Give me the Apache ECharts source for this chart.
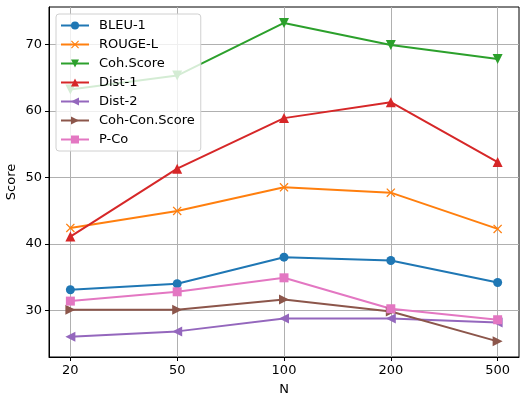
<!DOCTYPE html>
<html>
<head>
<meta charset="utf-8">
<script src="https://cdn.jsdelivr.net/npm/echarts@6/dist/echarts.min.js"></script>
<style>html,body{margin:0;padding:0;background:#fff}#c{width:523px;height:394px}</style>
</head>
<body>
<div id="c"></div>
<script>
var categories = ['20', '50', '100', '200', '500'];
var yTicks = [30, 40, 50, 60, 70];
var bleu1 = [33.1, 34.0, 38.0, 37.5, 34.2];
var rougeL = [42.4, 44.95, 48.5, 47.7, 42.25];
var cohScore = [63.2, 65.3, 73.2, 69.9, 67.8];
var dist1 = [41.1, 51.3, 58.9, 61.3, 52.3];
var dist2 = [26.05, 26.85, 28.8, 28.8, 28.2];
var cohConScore = [30.1, 30.1, 31.65, 29.85, 25.35];
var pCo = [31.4, 32.8, 34.9, 30.25, 28.6];

var seriesDefs = [
  {name: 'BLEU-1', data: bleu1, color: '#1f77b4', symbol: 'circle', rot: 0, size: 9},
  {name: 'ROUGE-L', data: rougeL, color: '#ff7f0e', symbol: 'path://M1,0L5,4L9,0L10,1L6,5L10,9L9,10L5,6L1,10L0,9L4,5L0,1Z', rot: 0, size: 9},
  {name: 'Coh.Score', data: cohScore, color: '#2ca02c', symbol: 'triangle', rot: 180, size: 10},
  {name: 'Dist-1', data: dist1, color: '#d62728', symbol: 'triangle', rot: 0, size: 10},
  {name: 'Dist-2', data: dist2, color: '#9467bd', symbol: 'triangle', rot: 90, size: 10},
  {name: 'Coh-Con.Score', data: cohConScore, color: '#8c564b', symbol: 'triangle', rot: -90, size: 10},
  {name: 'P-Co', data: pCo, color: '#e377c2', symbol: 'rect', rot: 0, size: 9}
];

var font = 'DejaVu Sans';
var series = seriesDefs.map(function (s) {
  return {
    name: s.name,
    type: 'line',
    data: s.data.map(function (v, i) { return [i, v]; }),
    symbol: s.symbol,
    symbolSize: s.size,
    symbolRotate: s.rot,
    showAllSymbol: true,
    color: s.color,
    itemStyle: {color: s.color, opacity: 1},
    lineStyle: {color: s.color, width: 2},
    emphasis: {disabled: true},
    animation: false
  };
});

var chart = echarts.init(document.getElementById('c'), null, {renderer: 'canvas'});
chart.setOption({
  animation: false,
  backgroundColor: '#fff',
  textStyle: {fontFamily: font},
  grid: {left: 49, right: 4, top: 7, bottom: 37, containLabel: false, outerBoundsMode: 'none', show: true, borderColor: '#000', borderWidth: 1, backgroundColor: 'transparent'},
  legend: {
    orient: 'vertical',
    left: 56,
    top: 14,
    padding: [5, 6, 5, 4],
    itemGap: 6,
    itemWidth: 28,
    itemHeight: 10,
    backgroundColor: 'rgba(255,255,255,0.8)',
    borderColor: '#d0d0d0',
    borderWidth: 1,
    borderRadius: 3,
    textStyle: {fontFamily: font, fontSize: 13, color: '#000', padding: [0, 0, 0, 5]},
    data: seriesDefs.map(function (s) { return s.name; })
  },
  xAxis: {
    type: 'value',
    min: -0.2,
    max: 4.2,
    name: 'N',
    nameLocation: 'middle',
    nameGap: 26,
    nameMoveOverlap: false,
    nameTextStyle: {fontFamily: font, fontSize: 13, color: '#000'},
    axisLine: {show: true, onZero: false, lineStyle: {color: '#000', width: 1}},
    axisTick: {show: true, length: 4, inside: false, customValues: [0, 1, 2, 3, 4], lineStyle: {color: '#000'}},
    axisLabel: {customValues: [0, 1, 2, 3, 4], fontFamily: font, fontSize: 13, color: '#000', margin: 7,
      formatter: function (v) { return categories[Math.round(v)] || ''; }},
    splitLine: {show: true, lineStyle: {color: '#b0b0b0', width: 1}}
  },
  yAxis: {
    type: 'value',
    min: 23,
    max: 75.6,
    name: 'Score',
    nameLocation: 'middle',
    nameGap: 31,
    nameMoveOverlap: false,
    nameTextStyle: {fontFamily: font, fontSize: 13, color: '#000'},
    axisLine: {show: true, onZero: false, lineStyle: {color: '#000', width: 1}},
    axisTick: {show: true, length: 4, inside: false, customValues: yTicks, lineStyle: {color: '#000'}},
    axisLabel: {customValues: yTicks, fontFamily: font, fontSize: 13, color: '#000', margin: 7},
    splitLine: {show: true, lineStyle: {color: '#b0b0b0', width: 1}}
  },
  series: series
});
</script>
</body>
</html>
